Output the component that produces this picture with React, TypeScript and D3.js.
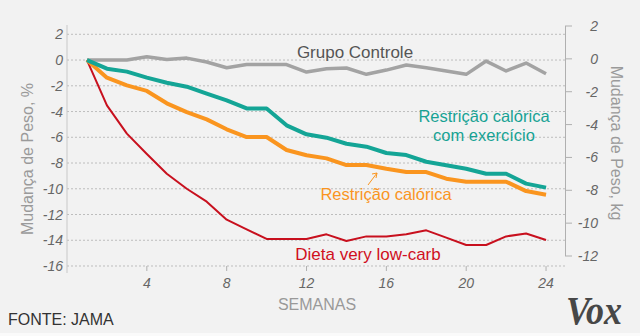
import React from "react";
import * as d3 from "d3";

const weeks = [1,2,3,4,5,6,7,8,9,10,11,12,13,14,15,16,17,18,19,20,21,22,23,24];
const controle = [0,0,0,0.25,0.05,0.15,-0.15,-0.6,-0.35,-0.35,-0.35,-0.93,-0.67,-0.62,-1.11,-0.78,-0.39,-0.6,-0.85,-1.11,-0.08,-0.85,-0.23,-1.06];
const exercicio = [0,-0.67,-0.9,-1.37,-1.76,-2.07,-2.61,-3.13,-3.76,-3.76,-5.07,-5.77,-6.03,-6.5,-6.73,-7.22,-7.38,-7.9,-8.18,-8.44,-8.83,-8.83,-9.6,-9.91];
const calorica = [0,-1.37,-1.97,-2.4,-3.36,-4.04,-4.61,-5.38,-5.98,-5.98,-6.99,-7.4,-7.64,-8.16,-8.16,-8.45,-8.69,-8.7,-9.22,-9.45,-9.45,-9.45,-10.18,-10.46];
const lowcarb = [0,-3.52,-5.72,-7.3,-8.83,-10.0,-11.0,-12.4,-13.15,-13.9,-13.9,-13.9,-13.54,-14.06,-13.7,-13.7,-13.54,-13.23,-13.8,-14.37,-14.37,-13.7,-13.48,-13.98];
const pctTicks = [2,0,-2,-4,-6,-8,-10,-12,-14,-16];
const kgTicks = [2,0,-2,-4,-6,-8,-10,-12];
const weekTicks = [4,8,12,16,20,24];

const W = 640, H = 336;

export default function App() {
  const x = d3.scaleLinear().domain([0, 25]).range([67, 566]);
  const y = d3.scaleLinear().domain([-16, 2]).range([266, 34.3]);
  const yk = d3.scaleLinear().domain([-12, 2]).range([256, 26]);
  const line = (vals: number[]) =>
    d3.line<number>().x((_, i) => x(weeks[i])).y((v) => y(v))(vals) || "";

  const series = [
    { vals: controle, color: "#a3a3a3", w: 3.5 },
    { vals: lowcarb, color: "#c8101e", w: 2 },
    { vals: calorica, color: "#fa951f", w: 4 },
    { vals: exercicio, color: "#14a596", w: 4 },
  ];
  const sans = "'Liberation Sans', Arial, sans-serif";

  return (
    <svg width={W} height={H} style={{ position: "absolute", left: 0, top: 0 }} fontFamily={sans}>
      <rect x={0} y={0} width={W} height={333} fill="#f2f2f2" />
      <rect x={0} y={333} width={W} height={3} fill="#fafafa" />
      {pctTicks.map((t) => (
        <line key={"g" + t} x1={67} x2={565} y1={y(t)} y2={y(t)} stroke="#bdbdbd" strokeDasharray="2,2" strokeWidth={1} />
      ))}
      <line x1={67} x2={67} y1={25} y2={273} stroke="#c8c8c8" strokeWidth={1} />
      {pctTicks.map((t) => (
        <text key={"l" + t} x={63} y={y(t)} textAnchor="end" dominantBaseline="central" fontSize={14} fontStyle="italic" fill="#666">{t}</text>
      ))}
      <line x1={565.5} x2={565.5} y1={yk(2)} y2={yk(-12)} stroke="#b0b0b0" strokeWidth={1} />
      {kgTicks.map((t) => (
        <g key={"k" + t}>
          <line x1={565} x2={572} y1={yk(t)} y2={yk(t)} stroke="#b0b0b0" strokeWidth={1} />
          <text x={598} y={yk(t)} textAnchor="end" dominantBaseline="central" fontSize={14} fontStyle="italic" fill="#666">{t}</text>
        </g>
      ))}
      {weekTicks.map((t) => (
        <g key={"w" + t}>
          <line x1={x(t)} x2={x(t)} y1={266} y2={271} stroke="#b0b0b0" strokeWidth={1} />
          <text x={x(t)} y={283} textAnchor="middle" dominantBaseline="central" fontSize={14} fontStyle="italic" fill="#666">{t}</text>
        </g>
      ))}
      {series.map((s, i) => (
        <path key={"s" + i} d={line(s.vals)} fill="none" stroke={s.color} strokeWidth={s.w} strokeLinejoin="round" />
      ))}
      <text x={355} y={52} textAnchor="middle" dominantBaseline="central" fontSize={17} fill="#555">Grupo Controle</text>
      <text x={484} y={122} textAnchor="middle" fontSize={16.5} fill="#17a294">Restrição calórica</text>
      <text x={484} y={141} textAnchor="middle" fontSize={16.5} fill="#17a294">com exercício</text>
      <text x={386} y={200} textAnchor="middle" fontSize={16.5} fill="#fa951f">Restrição calórica</text>
      <line x1={368} y1={185} x2={377} y2={173} stroke="#fa951f" strokeWidth={1} />
      <path d="M372,174 L377,173 L376,178" fill="none" stroke="#fa951f" strokeWidth={1} />
      <text x={368} y={260} textAnchor="middle" fontSize={17} fill="#d0101e">Dieta very low-carb</text>
      <text x={317} y={304} textAnchor="middle" dominantBaseline="central" fontSize={16} fill="#999">SEMANAS</text>
      <text x={8} y={325} fontSize={16} fill="#333">FONTE: JAMA</text>
      <text transform="translate(27,159) rotate(-90)" textAnchor="middle" dominantBaseline="central" fontSize={16} fill="#9a9a9a">Mudança de Peso, %</text>
      <text transform="translate(616,143) rotate(90)" textAnchor="middle" dominantBaseline="central" fontSize={16} fill="#9a9a9a">Mudança de Peso, kg</text>
      <text x={566} y={324} fontFamily="'Liberation Serif', 'DejaVu Serif', serif" fontWeight="bold" fontStyle="italic" fontSize={40} textLength={56} lengthAdjust="spacingAndGlyphs" fill="#474747">Vox</text>
    </svg>
  );
}
